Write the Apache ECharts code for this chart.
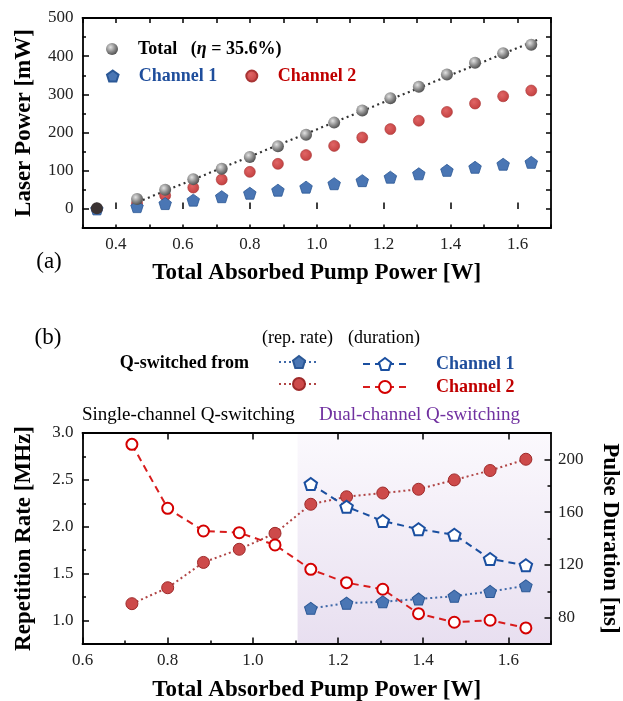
<!DOCTYPE html>
<html>
<head>
<meta charset="utf-8">
<script src="https://cdn.jsdelivr.net/npm/echarts@6/dist/echarts.min.js"></script>
<style>html,body{margin:0;padding:0;background:#fff}#c{width:623px;height:701px}</style>
</head>
<body>
<div id="c"></div>
<script>
// ---------- data (a) ----------
const pumpA = [0.343, 0.463, 0.547, 0.631, 0.716, 0.800, 0.884, 0.968, 1.052, 1.136, 1.220, 1.305, 1.389, 1.473, 1.557, 1.641];
const totalPower = [2, 26, 50, 78, 105, 136, 164, 194, 226, 258, 290, 320, 352, 383, 408, 430];
const ch1Power = [0, 6, 14, 23, 32, 41, 49, 57, 66, 74, 83, 92, 101, 109, 117, 122];
const ch2Power = [0, 15, 35, 56, 77, 97, 118, 141, 165, 187, 209, 231, 254, 276, 295, 310];
const fitX = [0.465, 1.66];
const fitY = [18, 443];
const xTicksA = [0.4, 0.6, 0.8, 1.0, 1.2, 1.4, 1.6];
const yTicksA = [0, 100, 200, 300, 400, 500];

// ---------- data (b) ----------
const pumpB = [0.716, 0.800, 0.884, 0.968, 1.052, 1.136, 1.220, 1.305, 1.389, 1.473, 1.557, 1.641];
const rateCh2 = [1.18, 1.35, 1.62, 1.76, 1.93, 2.24, 2.32, 2.36, 2.40, 2.50, 2.60, 2.72];
const durCh2 = [211.4, 162.9, 145.7, 144.4, 135.1, 116.6, 106.5, 101.5, 83.0, 76.5, 78.0, 72.2];
const pumpB1 = [1.136, 1.220, 1.305, 1.389, 1.473, 1.557, 1.641];
const rateCh1 = [1.13, 1.185, 1.20, 1.23, 1.26, 1.31, 1.37];
const durCh1 = [181.3, 164.1, 153.3, 147.0, 142.9, 124.5, 119.7];
const dualStart = 1.105;
const xTicksB = [0.6, 0.8, 1.0, 1.2, 1.4, 1.6];
const rateTicks = [1.0, 1.5, 2.0, 2.5, 3.0];
const durTicks = [80, 120, 160, 200];

// ---------- styling ----------
const FONT = 'Liberation Serif';
const PENT = 'path://M0,-100L95,-31L59,81L-59,81L-95,-31Z';
const BLUE_T = '#1f4e9c', RED_T = '#c00000';
const zip = (a, b) => a.map((v, i) => [v, b[i]]);
const inList = (list, v) => list.some(t => Math.abs(t - v) < 1e-6);
const fmt = (list, d) => v => inList(list, v) ? v.toFixed(d) : '';
const lineS = { lineStyle: { color: '#000', width: 1.8 } };
const labelS = { color: '#222', fontFamily: FONT, fontSize: 17 };
const nameS = { color: '#000', fontFamily: FONT, fontSize: 23, fontWeight: 'bold' };

function ax(o) {
  return Object.assign({ type: 'value', scale: false, splitLine: { show: false },
    axisLine: { show: false }, axisTick: { show: false }, axisLabel: { show: false }, z: 5 }, o);
}
function minorTick(len) { return { show: true, inside: true, length: len, lineStyle: { color: '#000', width: 1.5 } }; }
function majorTick(vals, len) { return { show: true, inside: true, length: len, customValues: vals, lineStyle: { color: '#000', width: 1.5 } }; }

const xAxes = [
  // grid 0
  ax({ gridIndex: 0, position: 'bottom', min: 0.3, max: 1.7, interval: 0.1, axisLine: Object.assign({ show: true, onZero: false }, lineS),
       axisTick: minorTick(3.5), axisLabel: Object.assign({ show: true, margin: 8, formatter: fmt(xTicksA, 1) }, labelS),
       name: 'Total Absorbed Pump Power [W]', nameLocation: 'middle', nameGap: 34, nameTextStyle: nameS }),
  ax({ gridIndex: 0, position: 'bottom', min: 0.3, max: 1.7, axisTick: majorTick(xTicksA, 6.5) }),
  ax({ gridIndex: 0, position: 'top', min: 0.3, max: 1.7, interval: 0.1, axisLine: Object.assign({ show: true, onZero: false }, lineS), axisTick: minorTick(5) }),
  // grid 1
  ax({ gridIndex: 1, position: 'bottom', min: 0.6, max: 1.7, interval: 0.1, axisLine: Object.assign({ show: true, onZero: false }, lineS),
       axisTick: minorTick(3.5), axisLabel: Object.assign({ show: true, margin: 8, formatter: fmt(xTicksB, 1) }, labelS),
       name: 'Total Absorbed Pump Power [W]', nameLocation: 'middle', nameGap: 35, nameTextStyle: nameS }),
  ax({ gridIndex: 1, position: 'bottom', min: 0.6, max: 1.7, axisTick: majorTick(xTicksB, 6.5) }),
  ax({ gridIndex: 1, position: 'top', min: 0.6, max: 1.7, axisLine: Object.assign({ show: true, onZero: false }, lineS), axisTick: majorTick(xTicksB, 6.5) })
];
const yAxes = [
  // grid 0
  ax({ gridIndex: 0, position: 'left', min: -50, max: 500, interval: 50, axisLine: Object.assign({ show: true, onZero: false }, lineS),
       axisTick: minorTick(3.5), axisLabel: Object.assign({ show: true, margin: 9, formatter: fmt(yTicksA, 0) }, labelS),
       name: 'Laser Power [mW]', nameLocation: 'middle', nameGap: 47, nameTextStyle: nameS }),
  ax({ gridIndex: 0, position: 'left', min: -50, max: 500, axisTick: majorTick(yTicksA, 6.5) }),
  ax({ gridIndex: 0, position: 'right', min: -50, max: 500, interval: 50, axisLine: Object.assign({ show: true, onZero: false }, lineS), axisTick: minorTick(5) }),
  // grid 1 left (rate)
  ax({ gridIndex: 1, position: 'left', min: 0.75, max: 3.0, interval: 0.25, axisLine: Object.assign({ show: true, onZero: false }, lineS),
       axisTick: minorTick(3.5), axisLabel: Object.assign({ show: true, margin: 9, formatter: fmt(rateTicks, 1) }, labelS),
       name: 'Repetition Rate [MHz]', nameLocation: 'middle', nameGap: 47, nameTextStyle: nameS }),
  ax({ gridIndex: 1, position: 'left', min: 0.75, max: 3.0, axisTick: majorTick(rateTicks, 6.5) }),
  // grid 1 right (duration)
  ax({ gridIndex: 1, position: 'right', min: 60, max: 220, interval: 20, axisLine: Object.assign({ show: true, onZero: false }, lineS),
       axisTick: minorTick(3.5), axisLabel: Object.assign({ show: true, margin: 7, formatter: fmt(durTicks, 0) }, labelS),
       name: 'Pulse Duration [ns]', nameLocation: 'middle', nameGap: 47, nameRotate: -90, nameTextStyle: nameS }),
  ax({ gridIndex: 1, position: 'right', min: 60, max: 220, axisTick: majorTick(durTicks, 6.5) })
];

const sphere = { type: 'radial', x: 0.38, y: 0.35, r: 0.7, colorStops: [{ offset: 0, color: '#e2e2e2' }, { offset: 0.55, color: '#8a8a8a' }, { offset: 1, color: '#4a4a4a' }] };
const redBall = { type: 'radial', x: 0.4, y: 0.38, r: 0.7, colorStops: [{ offset: 0, color: '#e06565' }, { offset: 1, color: '#c03c3c' }] };

const totalData = zip(pumpA, totalPower).map((p, i) => i === 0 ? { value: p, itemStyle: { color: '#3b3333' } } : p);

const series = [
  { name: 'fit', type: 'line', xAxisIndex: 0, yAxisIndex: 0, data: zip(fitX, fitY), symbol: 'none', silent: true,
    lineStyle: { color: '#333', width: 2.2, type: [2, 3.5] }, z: 2 },
  { name: 'Channel 2', type: 'scatter', xAxisIndex: 0, yAxisIndex: 0, data: zip(pumpA, ch2Power), symbol: 'circle', symbolSize: 11,
    itemStyle: { color: redBall, borderColor: '#a83434', borderWidth: 0.6, opacity: 1 }, z: 3 },
  { name: 'Channel 1', type: 'scatter', xAxisIndex: 0, yAxisIndex: 0, data: zip(pumpA, ch1Power), symbol: PENT, symbolSize: [12.5, 12],
    itemStyle: { color: '#4a76b4', borderColor: '#2b5896', borderWidth: 0.8, opacity: 1 }, z: 4 },
  { name: 'Total', type: 'scatter', xAxisIndex: 0, yAxisIndex: 0, data: totalData, symbol: 'circle', symbolSize: 12,
    itemStyle: { color: sphere, opacity: 1 }, z: 5 },

  { name: 'Ch2 rep', type: 'line', xAxisIndex: 3, yAxisIndex: 3, data: zip(pumpB, rateCh2), symbol: 'circle', symbolSize: 12,
    itemStyle: { color: '#cd4a4a', borderColor: '#9e2a2a', borderWidth: 1 }, lineStyle: { color: '#b04545', width: 2, type: [2, 3] }, z: 3,
    markArea: { silent: true, label: { show: false }, z: 1,
      itemStyle: { color: { type: 'linear', x: 0, y: 0, x2: 0, y2: 1, colorStops: [{ offset: 0, color: '#fbf9fd' }, { offset: 1, color: '#e8dff0' }] } },
      data: [[{ xAxis: dualStart, yAxis: 0.75 }, { xAxis: 1.7, yAxis: 3.0 }]] } },
  { name: 'Ch2 dur', type: 'line', xAxisIndex: 3, yAxisIndex: 5, data: zip(pumpB, durCh2), symbol: 'circle', symbolSize: 11,
    itemStyle: { color: '#fff', borderColor: '#d40000', borderWidth: 2 }, lineStyle: { color: '#d81c1c', width: 2, type: [7, 5] }, z: 4 },
  { name: 'Ch1 rep', type: 'line', xAxisIndex: 3, yAxisIndex: 3, data: zip(pumpB1, rateCh1), symbol: PENT, symbolSize: [12.5, 12],
    itemStyle: { color: '#4a76b4', borderColor: '#2b5896', borderWidth: 1 }, lineStyle: { color: '#3e68a8', width: 2, type: [2, 3] }, z: 5 },
  { name: 'Ch1 dur', type: 'line', xAxisIndex: 3, yAxisIndex: 5, data: zip(pumpB1, durCh1), symbol: PENT, symbolSize: [12.5, 12],
    itemStyle: { color: '#fff', borderColor: '#1a4fa0', borderWidth: 2 }, lineStyle: { color: '#1a4fa0', width: 2, type: [7, 5] }, z: 6 }
];

const legTxt = { fontFamily: FONT, fontSize: 18, fontWeight: 'bold', color: '#000' };
const legends = [
  { data: ['Total'], left: 106, top: 40, padding: 0, itemWidth: 42, itemHeight: 12, selectedMode: false,
    formatter: () => 'Total   {p|(}{i|η}{p| = 35.6%)}',
    textStyle: Object.assign({}, legTxt, { rich: {
      p: { fontFamily: FONT, fontSize: 18, fontWeight: 'bold', color: '#000' },
      i: { fontFamily: FONT, fontSize: 18, fontWeight: 'bold', fontStyle: 'italic', color: '#000' } } }) },
  { data: [{ name: 'Channel 1', textStyle: { color: BLUE_T } }, { name: 'Channel 2', textStyle: { color: RED_T } }],
    left: 106, top: 67, padding: 0, itemWidth: 42, itemHeight: 11, itemGap: 28, selectedMode: false, textStyle: legTxt },
  { data: ['Ch1 rep', 'Ch2 rep'], orient: 'vertical', left: 278, top: 355, padding: 0, itemWidth: 40, itemHeight: 15, itemGap: 8,
    selectedMode: false, formatter: () => '', textStyle: Object.assign({}, legTxt, { lineHeight: 15 }) },
  { data: [{ name: 'Ch1 dur', textStyle: { color: BLUE_T } }, { name: 'Ch2 dur', textStyle: { color: RED_T } }],
    orient: 'vertical', left: 362, top: 355, padding: 0, itemWidth: 44, itemHeight: 15, itemGap: 5, selectedMode: false,
    formatter: n => '{s|}' + (n.startsWith('Ch1') ? 'Channel 1' : 'Channel 2'),
    textStyle: Object.assign({}, legTxt, { lineHeight: 15, rich: { s: { width: 24, height: 15 } } }) }
];

function txt(text, x, y, size, opts) {
  return { type: 'text', x: x, y: y, silent: true,
    style: Object.assign({ text: text, fontFamily: FONT, fontSize: size, fill: '#000', align: 'left', verticalAlign: 'middle' }, opts || {}) };
}

const graphics = [
  txt('(a)', 49, 262, 23, { align: 'center' }),
  txt('(b)', 48, 338, 23, { align: 'center' }),
  txt('(rep. rate)', 297.5, 338, 18, { align: 'center' }),
  txt('(duration)', 384, 338, 18, { align: 'center' }),
  txt('Q-switched from', 249, 363, 18, { align: 'right', fontWeight: 'bold' }),
  txt('Single-channel Q-switching', 82, 415, 19, {}),
  txt('Dual-channel Q-switching', 319, 415, 19, { fill: '#7030a0' })
];

const chart = echarts.init(document.getElementById('c'), null, { renderer: 'canvas' });
chart.setOption({
  backgroundColor: '#fff',
  animation: false,
  grid: [
    { left: 82.5, top: 18, width: 468.5, height: 210, containLabel: false, outerBoundsMode: 'none' },
    { left: 82.5, top: 433, width: 468.5, height: 211, containLabel: false, outerBoundsMode: 'none' }
  ],
  xAxis: xAxes,
  yAxis: yAxes,
  legend: legends,
  series: series,
  graphic: graphics
});
</script>
</body>
</html>
